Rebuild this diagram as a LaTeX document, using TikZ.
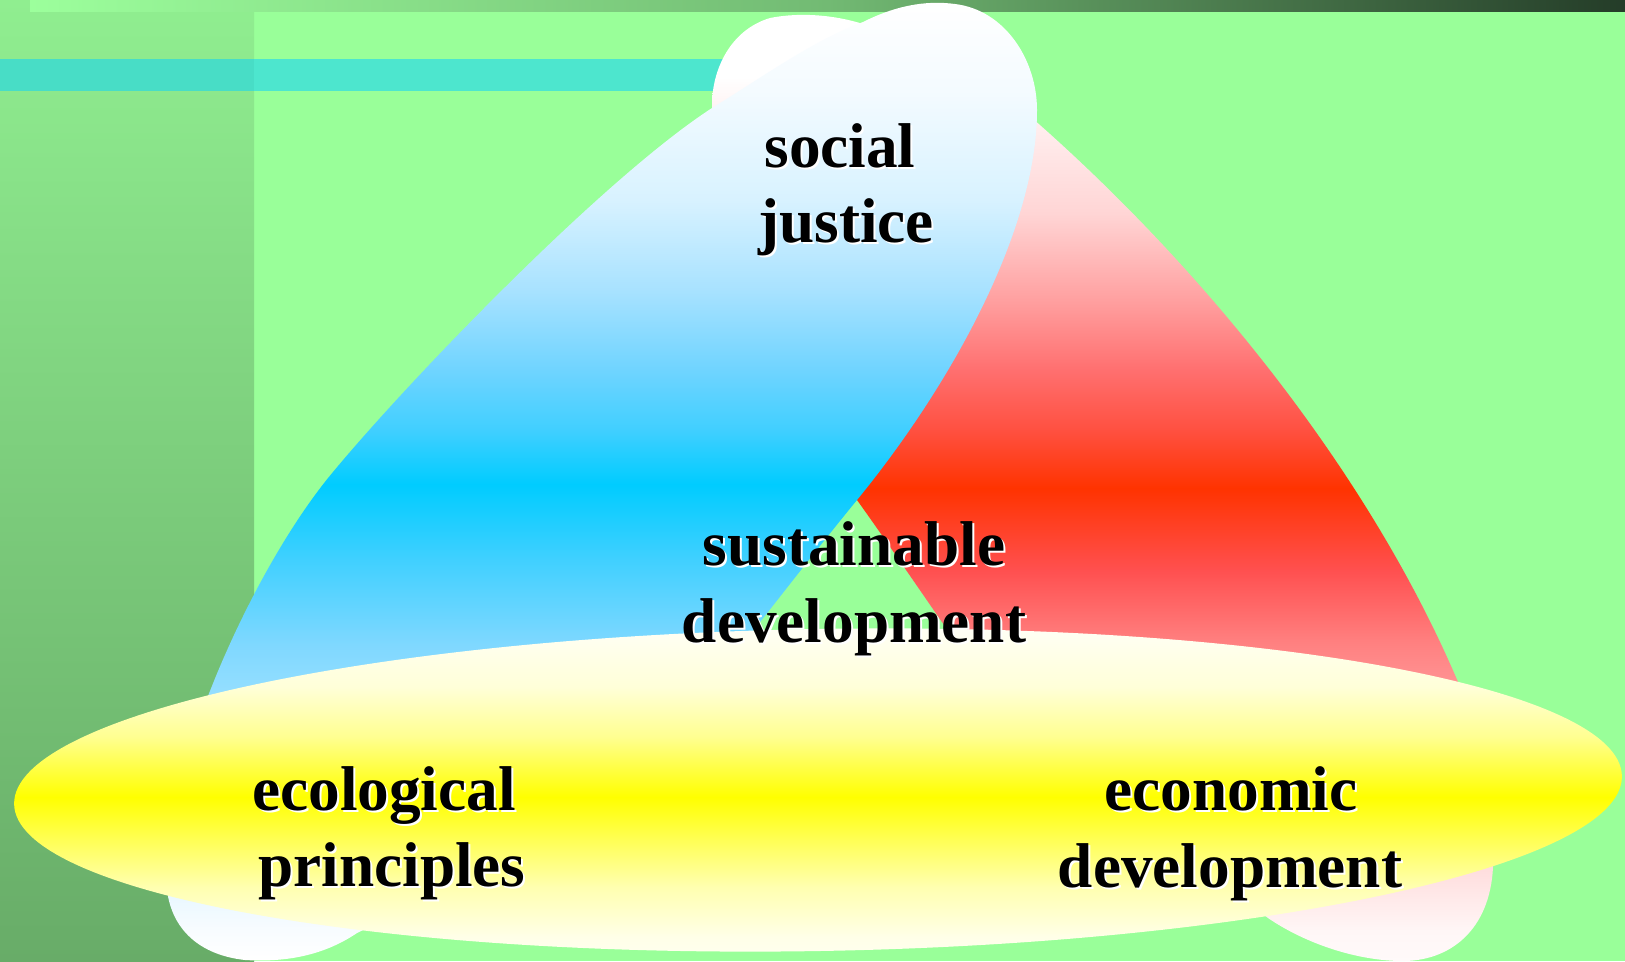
\documentclass[tikz,border=0pt]{standalone}
\usepackage{fontspec}
\setmainfont{Liberation Serif}

%% backdrop colours
\definecolor{meadow}{HTML}{99FF99}
\definecolor{stripTop}{HTML}{90EE90}
\definecolor{stripBottom}{HTML}{68AC68}
\definecolor{barLeft}{HTML}{9CFF9C}
\definecolor{barMid}{HTML}{72BA73}
\definecolor{barRight}{HTML}{243C28}
\definecolor{tealBar}{HTML}{4DE6CE}
\definecolor{tealDark}{HTML}{48DDC6}
%% social justice (blue)
\definecolor{skyTop}{HTML}{F4FBFF}
\definecolor{skyA}{HTML}{D8F2FF}
\definecolor{skyB}{HTML}{A8E2FF}
\definecolor{skyC}{HTML}{70D4FF}
\definecolor{skyD}{HTML}{40CFFF}
\definecolor{skyE}{HTML}{00CCFF}
\definecolor{skyF}{HTML}{40D0FF}
\definecolor{skyG}{HTML}{80D8FF}
\definecolor{skyH}{HTML}{A0E2FF}
\definecolor{skyLow}{HTML}{F8FCFF}
%% economic development (red)
\definecolor{roseTop}{HTML}{FFF0F0}
\definecolor{roseA}{HTML}{FFD5D5}
\definecolor{roseB}{HTML}{FFA0A0}
\definecolor{roseC}{HTML}{FF7070}
\definecolor{roseD}{HTML}{FF5040}
\definecolor{roseE}{HTML}{FF3300}
\definecolor{roseF}{HTML}{FF5050}
\definecolor{roseG}{HTML}{FF8080}
\definecolor{roseH}{HTML}{FF9A9A}
\definecolor{roseLow}{HTML}{FFF6F6}
\definecolor{roseEnd}{HTML}{FFFAFA}
%% ecological principles (yellow)
\definecolor{sunTop}{HTML}{FFFFF4}
\definecolor{sunA}{HTML}{FFFFD8}
\definecolor{sunB}{HTML}{FFFF90}
\definecolor{sunC}{HTML}{FFFF40}
\definecolor{sunD}{HTML}{FFFF00}
\definecolor{sunE}{HTML}{FFFF50}
\definecolor{sunF}{HTML}{FFFFB0}
\definecolor{sunG}{HTML}{FFFFE8}
\definecolor{sunEnd}{HTML}{FFFFF0}

%% 25bp = bottom of picture, 75bp = top of picture
\pgfdeclareverticalshading{justiceShade}{100bp}{color(0bp)=(white);
  color(25bp)=(white); color(26.6bp)=(skyLow); color(37.5bp)=(skyH);
  color(41.4bp)=(skyG); color(45.9bp)=(skyF); color(49.8bp)=(skyE);
  color(52.6bp)=(skyD); color(55.8bp)=(skyC); color(59.9bp)=(skyB);
  color(64.6bp)=(skyA); color(70.3bp)=(skyTop); color(75bp)=(white);
  color(100bp)=(white)}
\pgfdeclareverticalshading{economyShade}{100bp}{color(0bp)=(roseEnd);
  color(25bp)=(roseEnd); color(26.6bp)=(roseLow); color(38.6bp)=(roseH);
  color(41.6bp)=(roseG); color(45.3bp)=(roseF); color(49.6bp)=(roseE);
  color(52.6bp)=(roseD); color(55.8bp)=(roseC); color(59.4bp)=(roseB);
  color(63.9bp)=(roseA); color(68.8bp)=(roseTop); color(71bp)=(white);
  color(100bp)=(white)}
\pgfdeclareverticalshading{ecologyShade}{100bp}{color(0bp)=(sunEnd);
  color(25bp)=(sunEnd); color(26.25bp)=(sunG); color(28.85bp)=(sunF);
  color(31.45bp)=(sunE); color(33.53bp)=(sunD); color(34.94bp)=(sunC);
  color(36.65bp)=(sunB); color(39.25bp)=(sunA); color(42.2bp)=(sunTop);
  color(75bp)=(white); color(100bp)=(white)}

\begin{document}
\begin{tikzpicture}
[x=0.02cm, y=-0.02cm,
  wordGlow/.style={anchor=base, inner sep=0pt, text=white},
  wordInk/.style={anchor=base, inner sep=0pt, text=black}]
\useasboundingbox (0,0) rectangle (1625,961);
\fontsize{36}{41}\selectfont\bfseries
%% backdrop
\fill[meadow] (0,0) rectangle (1625,961);
\shade[top color=stripTop, bottom color=stripBottom] (0,0) rectangle (254,961);
\shade[left color=barLeft, right color=barRight, middle color=barMid]
  (30,0) rectangle (1625,11);
\fill[tealDark] (0,59) rectangle (254,91);
\fill[tealBar] (254,59) rectangle (760,91);
%% economic development
\begin{scope}
\clip (712,105) .. controls (712,70) and (730,30) .. (770,18)
  .. controls (800,12) and (835,15) .. (863,24)
  .. controls (950,50) and (1000,80) .. (1032,118)
  .. controls (1212,276) and (1372,480) .. (1458,682)
  .. controls (1485,745) and (1497,820) .. (1493,867)
  .. controls (1490,930) and (1450,962) .. (1400,961)
  .. controls (1350,960) and (1300,940) .. (1268,918)
  -- (1000,705) .. controls (950,635) and (900,560) .. (857,500)
  .. controls (800,420) and (712,250) .. cycle;
\shade[shading=economyShade] (0,0) rectangle (1625,961);
\end{scope}
%% social justice
\begin{scope}
\clip (863,22) .. controls (895,6) and (925,0) .. (955,4)
  .. controls (1005,10) and (1037,60) .. (1037,110)
  .. controls (1037,230) and (951,385) .. (857,500)
  .. controls (820,545) and (780,597) .. (738,650)
  -- (430,885) .. controls (405,905) and (380,922) .. (357,933)
  .. controls (320,958) and (280,962) .. (245,960)
  .. controls (200,955) and (172,930) .. (167,890)
  .. controls (160,770) and (255,565) .. (333,472)
  .. controls (416,372) and (622,160) .. (725,100)
  .. controls (780,65) and (820,38) .. cycle;
\shade[shading=justiceShade] (0,0) rectangle (1625,961);
\end{scope}
%% ecological principles
\begin{scope}
\clip[rotate around={1:(818,790)}] (818,790) ellipse [x radius=804, y radius=161];
\shade[shading=ecologyShade] (0,0) rectangle (1625,961);
\end{scope}
%% labels
\foreach \name/\x/\y/\word in {
  social/840/167/social, justice/846/242/justice,
  sustainable/854/565/sustainable, development/854/642/development,
  ecological/384/810/ecological, principles/392/886/principles,
  economic/1231/810/economic, economicDev/1230/887/development}
{
  \node[wordGlow] (\name-glow) at (\x+2,\y+2) {\word};
  \node[wordInk] (\name) at (\x,\y) {\word};
}
\end{tikzpicture}
\end{document}
